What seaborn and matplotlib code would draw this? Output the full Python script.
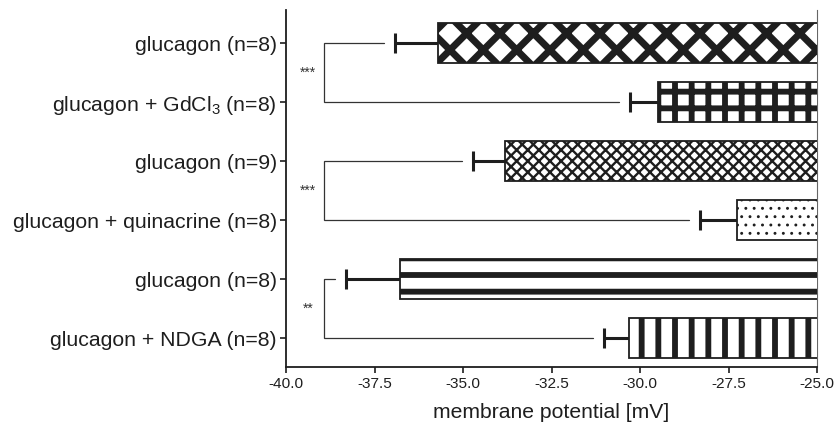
import numpy as np
import pandas as pd
import matplotlib
matplotlib.use("Agg")
import matplotlib.pyplot as plt
import seaborn as sns

# ---- data ----
row_ids = ["r1", "r2", "r3", "r4", "r5", "r6"]
labels = ["glucagon (n=8)", "glucagon + GdCl$_3$ (n=8)", "glucagon (n=9)",
          "glucagon + quinacrine (n=8)", "glucagon (n=8)", "glucagon + NDGA (n=8)"]
means = [-35.72, -29.49, -33.80, -27.27, -36.79, -30.31]
sems = [1.20, 0.79, 0.92, 1.04, 1.52, 0.71]
hatches = ["x", "+", "xxx", "..", "-", "|"]
hatch_lws = [5.0, 4.2, 1.7, 0.9, 4.2, 4.2]
pairs = [(0, 1), (2, 3), (4, 5)]
stars = ["***", "***", "**"]
xticks = [-40.0, -37.5, -35.0, -32.5, -30.0, -27.5, -25.0]
xlabel = "membrane potential [mV]"

sns.set_style("ticks")
plt.rcParams["font.family"] = ["Liberation Sans", "DejaVu Sans"]
plt.rcParams["mathtext.default"] = "regular"
plt.rcParams["hatch.linewidth"] = 3.0

ink = "#1e1e1e"
df = pd.DataFrame({"row": row_ids, "potential": means})

fig = plt.figure(figsize=(8.36, 4.23), dpi=100)
ax = fig.add_axes([286 / 836, 1 - 367 / 423, (817 - 286) / 836, (367 - 10) / 423])

sns.barplot(data=df, x="potential", y="row", orient="h", color="white",
            saturation=1, width=0.68, errorbar=None, edgecolor=ink,
            linewidth=1.3, ax=ax, zorder=3)

for p, h, lw in zip(ax.patches, hatches, hatch_lws):
    p.set_hatch(h)
    p.set_facecolor("white")
    p.set_edgecolor(ink)
    if hasattr(p, "set_hatch_linewidth"):
        p.set_hatch_linewidth(lw)

ypos = np.arange(len(means))
m = np.array(means)
s = np.array(sems)
eb = ax.errorbar(m, ypos, xerr=[s, np.zeros_like(s)], fmt="none", ecolor=ink,
                 elinewidth=2.2, capsize=7.5, capthick=2.2, zorder=2)
for cl in eb[1]:
    xd = np.asarray(cl.get_xdata(), dtype=float)
    if np.allclose(xd, m):
        cl.set_visible(False)

bracket_x = -38.93
gap = 0.3
for (i, j), st in zip(pairs, stars):
    xi = means[i] - sems[i] - gap
    xj = means[j] - sems[j] - gap
    ax.plot([xi, bracket_x, bracket_x, xj], [i, i, j, j], color="#333333",
            lw=0.9, solid_joinstyle="miter", zorder=1)
    ax.text(-39.38, (i + j) / 2, st, ha="center", va="center",
            fontsize=10, color="#333333")

ax.set_xlim(-40, -25)
ax.set_ylim(5.49, -0.565)
ax.set_xticks(xticks)
ax.set_xticklabels([f"{v:.1f}" for v in xticks])
ax.set_yticks(ypos)
ax.set_yticklabels(labels)
ax.set_ylabel("")
ax.set_xlabel(xlabel, fontsize=15.2, color=ink, labelpad=8)

ax.tick_params(axis="x", labelsize=11.1, length=4.5, width=1.2, colors=ink, pad=3)
ax.tick_params(axis="y", labelsize=15.3, length=4.5, width=1.2, colors=ink, pad=2)
for side in ["left", "bottom"]:
    ax.spines[side].set_color(ink)
    ax.spines[side].set_linewidth(1.3)
ax.spines["right"].set_visible(True)
ax.spines["right"].set_color("#666666")
ax.spines["right"].set_linewidth(0.8)
ax.spines["top"].set_visible(False)

fig.savefig("out.png", dpi=100)
